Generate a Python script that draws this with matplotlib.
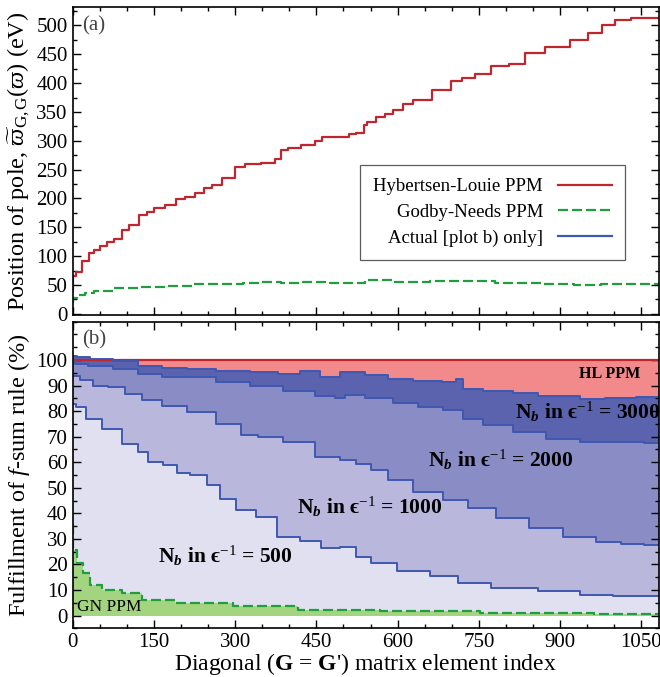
import matplotlib
matplotlib.use("Agg")
import matplotlib.pyplot as plt
from matplotlib.ticker import MultipleLocator

plt.rcParams['font.family'] = ['Liberation Serif', 'DejaVu Serif']
plt.rcParams['mathtext.fontset'] = 'custom'
plt.rcParams['mathtext.rm'] = 'Liberation Serif'
plt.rcParams['mathtext.it'] = 'Liberation Serif:italic'
plt.rcParams['mathtext.bf'] = 'Liberation Serif:bold'
plt.rcParams['mathtext.bfit'] = 'Liberation Serif:italic:bold'

# ---- panel (a): pole positions (eV) ----
hl_x = [0, 2, 10, 25, 35, 44, 57, 69, 84, 97, 112, 133, 143, 158, 183, 198, 216, 235, 250,
        266, 287, 312, 324, 370, 379, 392, 404, 438, 456, 466, 509, 512, 536, 539, 549, 573,
        580, 604, 616, 641, 687, 711, 727, 758, 786, 825, 844, 899, 939, 964, 989, 1013,
        1050, 1082]
hl_y = [42, 65, 73, 91, 105, 111, 117, 125, 129, 146, 154, 172, 177, 183, 189, 199, 202, 209,
        219, 224, 235, 254, 260, 261, 268, 284, 288, 293, 299, 306, 307, 312, 314, 328, 333,
        342, 346, 354, 364, 371, 388, 404, 409, 416, 429, 434, 452, 462, 474, 487, 501, 510,
        513, 513]

gn_x = [0, 3, 15, 30, 50, 100, 150, 200, 250, 300, 330, 370, 400, 450, 500, 580, 600, 720,
        840, 900, 950, 1000, 1082]
gn_y = [19, 28, 32, 36, 39, 44, 46, 48, 51, 52, 53, 56, 54, 55, 54, 58, 56, 57, 53, 52, 50,
        51, 51]

# ---- panel (b): f-sum rule fulfillment (%) ----
n3000_x = [0, 15, 50, 100, 143, 186, 235, 296, 358, 400, 440, 475, 512, 567, 598, 659, 705,
           710, 733, 782, 844, 874, 905, 967, 997, 1082]
n3000_y = [101.7, 101, 100.4, 99.7, 97.8, 96.9, 96.5, 95.8, 95.2, 94.5, 95.8, 93.2, 95.2, 94,
           92.6, 91.7, 91.3, 92.6, 88.7, 88, 87, 86, 86, 84.8, 85, 85.7]

n2000_x = [0, 8, 50, 100, 143, 186, 235, 296, 358, 419, 475, 493, 512, 567, 616, 659, 708,
           733, 782, 844, 905, 967, 1028, 1082]
n2000_y = [99.7, 98.4, 97.8, 96.5, 94.5, 93.2, 93.2, 91.3, 90, 88, 86.1, 85.2, 86.5, 85.2,
           83.1, 81.8, 80.3, 77, 74.4, 71.8, 69.2, 67.9, 67.9, 67.5]

n1000_x = [0, 26, 50, 81, 112, 143, 186, 235, 296, 327, 358, 419, 475, 512, 536, 567, 598,
           659, 708, 751, 812, 874, 936, 997, 1028, 1082]
n1000_y = [93.9, 92, 90, 89.4, 86.8, 84.2, 82.2, 79.6, 75, 70.5, 69.9, 67.9, 62.1, 60.8,
           59.5, 56.9, 53, 48.4, 45.2, 41.9, 38, 34.2, 30.9, 28.6, 27.9, 27.7]

n500_x = [0, 13, 38, 69, 112, 130, 149, 186, 198, 235, 260, 284, 321, 358, 395, 444, 475,
          512, 536, 567, 629, 690, 733, 812, 905, 967, 1028, 1082]
n500_y = [82.9, 81.6, 77, 73.1, 67.3, 64, 60.1, 58.8, 55.6, 54.9, 51, 45.8, 41.3, 38.7, 30.9,
          29, 26.4, 26.8, 23.1, 20.5, 17.3, 15.3, 12.7, 10.8, 9.5, 8.2, 7.5, 7.5]

gnb_x = [0, 2, 13, 26, 38, 69, 112, 143, 235, 358, 475, 659, 844, 1082]
gnb_y = [36, 25.7, 20.5, 16.6, 12, 10.1, 8.8, 6.2, 4.9, 3.6, 2.3, 1.7, 1.0, 0.8]

hl_b_x = [0, 1082]
hl_b_y = [100, 100]

red = '#c0262e'
green = '#1e9e3e'
blue = '#3f58b0'
dash = (0, (4.5, 1.8))

fig = plt.figure(figsize=(6.6, 6.77), dpi=100)
ax1 = fig.add_axes([0.110, 0.5347, 0.888, 0.455])
ax2 = fig.add_axes([0.110, 0.0719, 0.888, 0.4529])

# panel (a)
ax1.plot(hl_x, hl_y, drawstyle='steps-mid', color=red, lw=1.6, label='Hybertsen-Louie PPM')
ax1.plot(gn_x, gn_y, drawstyle='steps-mid', color=green, lw=1.6, ls=dash,
         label='Godby-Needs PPM')
ax1.plot([], [], color=blue, lw=1.6, label='Actual [plot b) only]')
ax1.set_xlim(0, 1082)
ax1.set_ylim(-2, 532)
ax1.yaxis.set_major_locator(MultipleLocator(50))
ax1.yaxis.set_minor_locator(MultipleLocator(25))
ax1.set_ylabel(r'Position of pole, $\widetilde{\varpi}_{\mathrm{G,G}}(\varpi)$ (eV)',
               fontsize=17.5, labelpad=3)
ax1.text(0.016, 0.94, '(a)', transform=ax1.transAxes, fontsize=15, color='#444444',
         va='center')
leg = ax1.legend(loc='center', bbox_to_anchor=(0.717, 0.333), markerfirst=False,
                 fontsize=13.5, frameon=True, fancybox=False, handlelength=2.9,
                 labelspacing=0.45, borderpad=0.7, borderaxespad=0)
leg.get_frame().set_edgecolor('#333333')
leg.get_frame().set_linewidth(0.9)
for t in leg.get_texts():
    t.set_ha('right')

# panel (b): layered fills from back to front
ax2.fill_between(hl_b_x, 0, hl_b_y, step='mid', color='#f28a8c', lw=0)
ax2.fill_between(n3000_x, 0, n3000_y, step='mid', color='#5b63ae', lw=0)
ax2.fill_between(n2000_x, 0, n2000_y, step='mid', color='#8a8cc5', lw=0)
ax2.fill_between(n1000_x, 0, n1000_y, step='mid', color='#b9b8dc', lw=0)
ax2.fill_between(n500_x, 0, n500_y, step='mid', color='#e1e0f0', lw=0)
ax2.fill_between(gnb_x, 0, gnb_y, step='mid', color='#a3d47f', lw=0)
ax2.plot(hl_b_x, hl_b_y, color=red, lw=1.6)
for xs, ys in [(n3000_x, n3000_y), (n2000_x, n2000_y), (n1000_x, n1000_y), (n500_x, n500_y)]:
    ax2.plot(xs, ys, drawstyle='steps-mid', color=blue, lw=1.4)
ax2.plot(gnb_x, gnb_y, drawstyle='steps-mid', color=green, lw=1.6, ls=dash)

ax2.set_xlim(0, 1082)
ax2.set_ylim(-5, 115)
ax2.set_yticks(range(0, 101, 10))
ax2.yaxis.set_minor_locator(MultipleLocator(5))
ax2.set_ylabel(r'Fulfillment of $f$-sum rule (%)', fontsize=17.5, labelpad=3)
ax2.set_xlabel(r"Diagonal ($\mathbf{G}$ = $\mathbf{G}$') matrix element index", fontsize=17,
               labelpad=-1)
ax2.text(0.016, 0.94, '(b)', transform=ax2.transAxes, fontsize=15, color='#444444',
         va='center')

lab_kw = dict(fontsize=15.5, fontweight='bold', va='center', ha='left', clip_on=True)
ax2.text(816, 79.6, r'N$_{\mathbfit{b}}$ in ϵ$^{-1}$ = 3000', **lab_kw)
ax2.text(656, 60.8, r'N$_{\mathbfit{b}}$ in ϵ$^{-1}$ = 2000', **lab_kw)
ax2.text(414, 42.5, r'N$_{\mathbfit{b}}$ in ϵ$^{-1}$ = 1000', **lab_kw)
ax2.text(157, 23.4, r'N$_{\mathbfit{b}}$ in ϵ$^{-1}$ = 500', **lab_kw)
ax2.text(991, 94.7, 'HL PPM', fontsize=11.5, fontweight='bold', va='center', ha='center')
ax2.text(8, 3.2, 'GN PPM', fontsize=12.5, va='center', ha='left')

for ax in (ax1, ax2):
    ax.xaxis.set_major_locator(MultipleLocator(150))
    ax.xaxis.set_minor_locator(MultipleLocator(50))
    ax.tick_params(which='both', direction='in', top=True, right=True, labelsize=15)
    ax.tick_params(which='major', length=6, width=1)
    ax.tick_params(which='minor', length=3, width=1)
    for s in ax.spines.values():
        s.set_linewidth(1.2)
ax1.tick_params(labelbottom=False)

fig.savefig('out.png', dpi=100)
